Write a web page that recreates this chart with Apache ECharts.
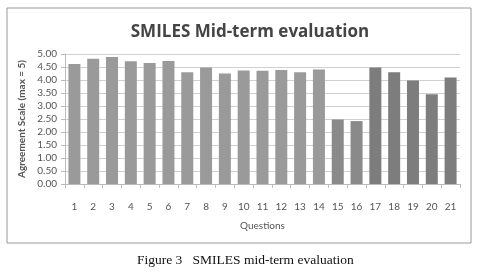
<!DOCTYPE html>
<html>
<head>
<meta charset="utf-8">
<script src="https://cdn.jsdelivr.net/npm/echarts@6/dist/echarts.min.js"></script>
<style>
	html, body { margin: 0; padding: 0; background: #fff; }
	#chart { width: 484px; height: 278px; }
</style>
</head>
<body>
<div id="chart"></div>
<script>
// questions 1..21
var questions = ['1', '2', '3', '4', '5', '6', '7', '8', '9', '10', '11',
	'12', '13', '14', '15', '16', '17', '18', '19', '20', '21'];

// mean agreement per question (max = 5)
var scores = [4.62, 4.82, 4.88, 4.72, 4.65, 4.73, 4.30, 4.48, 4.25, 4.37, 4.36,
	4.38, 4.30, 4.40, 2.48, 2.42, 4.48, 4.30, 3.98, 3.45, 4.10];

var yTicks = [0, 0.5, 1, 1.5, 2, 2.5, 3, 3.5, 4, 4.5, 5];

// bars from question 15 on are a shade darker
function barColor(i) {
	if (i < 14) return '#9a9a9a';
	if (i < 16) return '#8a8a8a';
	return '#7d7d7d';
}

var chart = echarts.init(document.getElementById('chart'));

var option = {
	backgroundColor: '#fff',
	animation: false,
	textStyle: { fontFamily: 'Lato, "Open Sans", sans-serif' },
	title: {
		text: 'SMILES Mid-term evaluation',
		left: 245,
		textAlign: 'center',
		top: 19,
		textStyle: { fontSize: 17, fontWeight: 'bold', color: '#444', fontFamily: '"Open Sans", sans-serif' }
	},
	grid: { left: 65, right: 24, top: 54, bottom: 94 },
	xAxis: {
		type: 'category',
		data: questions,
		name: 'Questions',
		nameLocation: 'middle',
		nameGap: 37,
		nameTextStyle: { fontSize: 10, color: '#555' },
		axisLine: { lineStyle: { color: '#bbb' } },
		axisTick: { show: true, alignWithLabel: false, length: 4, lineStyle: { color: '#bbb' } },
		axisLabel: { fontSize: 10, color: '#555', margin: 18 }
	},
	yAxis: {
		type: 'value',
		min: 0,
		max: yTicks[yTicks.length - 1],
		interval: yTicks[1] - yTicks[0],
		name: 'Agreement Scale (max = 5)',
		nameLocation: 'middle',
		nameGap: 29,
		nameTextStyle: { fontSize: 10, color: '#555', fontWeight: 'bold' },
		axisLine: { show: true, lineStyle: { color: '#bbb' } },
		axisTick: { show: true, length: 4, lineStyle: { color: '#bbb' } },
		splitLine: { lineStyle: { color: '#d0d0d0' } },
		axisLabel: {
			fontSize: 10, color: '#555', margin: 8,
			formatter: function (v) { return v.toFixed(2); }
		}
	},
	series: [{
		type: 'bar',
		barWidth: 12,
		data: scores.map(function (v, i) {
			return { value: v, itemStyle: { color: barColor(i) } };
		})
	}],
	graphic: [
		{
			type: 'rect',
			shape: { x: 7, y: 8, width: 464, height: 235 },
			style: { fill: 'none', stroke: '#999', lineWidth: 1 },
			silent: true
		},
		{
			type: 'text',
			left: 137,
			top: 253,
			style: {
				text: 'Figure 3   SMILES mid-term evaluation',
				font: '13.5px "Liberation Serif", "Times New Roman", serif',
				fill: '#111'
			}
		}
	]
};

chart.setOption(option);
</script>
</body>
</html>
